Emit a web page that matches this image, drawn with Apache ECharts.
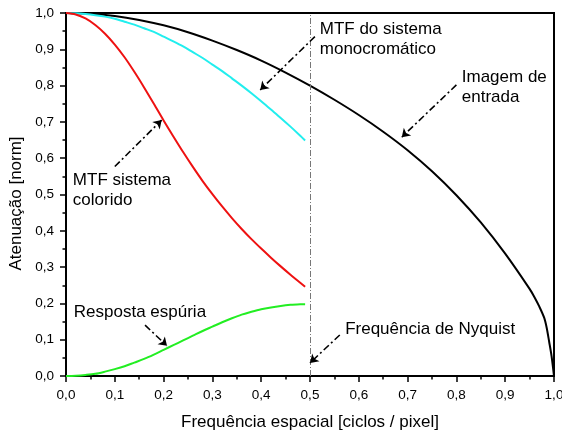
<!DOCTYPE html>
<html>
<head>
<meta charset="utf-8">
<script src="https://cdn.jsdelivr.net/npm/echarts@6/dist/echarts.min.js"></script>
<style>
html, body { margin: 0; padding: 0; background: #fff; }
#main { width: 562px; height: 431px; }
</style>
</head>
<body>
<div id="main"></div>
<script>
// curva de entrada (0..1)
var freqEntrada = [0, 0.05, 0.10, 0.15, 0.20, 0.25, 0.30, 0.35, 0.40, 0.45, 0.50, 0.55, 0.60, 0.65, 0.70, 0.75, 0.80, 0.85, 0.90, 0.95, 0.96, 0.97, 0.98, 0.985, 0.99, 0.995, 1.0];
var valEntrada  = [1.000, 0.998, 0.992, 0.981, 0.966, 0.947, 0.924, 0.898, 0.869, 0.836, 0.800, 0.761, 0.719, 0.673, 0.622, 0.564, 0.498, 0.423, 0.337, 0.240, 0.217, 0.191, 0.160, 0.133, 0.095, 0.055, 0.000];

// curvas ate Nyquist
var freqSist = [0, 0.02, 0.04, 0.06, 0.08, 0.10, 0.12, 0.14, 0.16, 0.18, 0.20, 0.22, 0.24, 0.26, 0.28, 0.30, 0.32, 0.34, 0.36, 0.38, 0.40, 0.42, 0.44, 0.46, 0.48, 0.49];
var valMono     = [1.000, 0.999, 0.997, 0.994, 0.990, 0.984, 0.976, 0.968, 0.958, 0.948, 0.935, 0.922, 0.908, 0.892, 0.876, 0.858, 0.840, 0.820, 0.800, 0.779, 0.757, 0.734, 0.711, 0.687, 0.662, 0.649];
var valColorido = [1.000, 0.996, 0.985, 0.967, 0.943, 0.913, 0.878, 0.838, 0.795, 0.750, 0.704, 0.660, 0.617, 0.576, 0.537, 0.501, 0.467, 0.435, 0.405, 0.377, 0.351, 0.326, 0.302, 0.279, 0.257, 0.246];
var valEspuria  = [0.000, 0.001, 0.003, 0.006, 0.012, 0.019, 0.027, 0.037, 0.047, 0.059, 0.072, 0.085, 0.098, 0.111, 0.124, 0.136, 0.148, 0.159, 0.169, 0.177, 0.184, 0.189, 0.193, 0.196, 0.198, 0.198];

var nyquist = 0.5;

// anotacoes
var notaTextos = ['MTF do sistema\nmonocromático', 'Imagem de\nentrada', 'MTF sistema\ncolorido', 'Resposta espúria', 'Frequência de Nyquist'];
var notaPos    = [[0.520, 0.983], [0.811, 0.851], [0.014, 0.567], [0.016, 0.204], [0.572, 0.157]];
var setaDe     = [[0.510, 0.935], [0.800, 0.802], [0.100, 0.577], [0.162, 0.140], [0.561, 0.113]];
var setaPara   = [[0.398, 0.788], [0.688, 0.658], [0.196, 0.705], [0.207, 0.083], [0.500, 0.036]];

function pares(xs, ys) {
	var out = [];
	for (var i = 0; i < xs.length; i++) out.push([xs[i], ys[i]]);
	return out;
}
function virgula(v) { return v.toFixed(1).replace('.', ','); }

var fonte = 'Liberation Sans, Arial, sans-serif';
var chartDom = document.getElementById('main');
var myChart = echarts.init(chartDom);

var eixo = {
	type: 'value',
	min: 0, max: 1, interval: 0.1,
	axisLine: { lineStyle: { color: '#000', width: 2 } },
	axisTick: { show: true, length: 6, lineStyle: { color: '#000', width: 1.5 } },
	minorTick: { show: true, splitNumber: 2, length: 3.5, lineStyle: { color: '#000', width: 1.5 } },
	splitLine: { show: false },
	axisLabel: { color: '#000', fontSize: 13.5, fontFamily: fonte, margin: 12, formatter: virgula },
	nameLocation: 'middle',
	nameTextStyle: { color: '#000', fontSize: 17, fontFamily: fonte }
};

var setas = [];
for (var i = 0; i < setaDe.length; i++) {
	setas.push([{ coord: setaDe[i] }, { coord: setaPara[i] }]);
}

var linha = { type: 'line', showSymbol: false, smooth: 0.3 };

var option = {
	animation: false,
	grid: {
		left: 66, right: 8, top: 13, bottom: 55, outerBoundsMode: 'none', containLabel: false,
		show: true, borderColor: '#000', borderWidth: 2
	},
	xAxis: Object.assign({}, eixo, { name: 'Frequência espacial [ciclos / pixel]', nameGap: 38 }),
	yAxis: Object.assign({}, eixo, {
		name: 'Atenuação [norm]', nameGap: 41,
		nameTextStyle: { color: '#000', fontSize: 17, fontFamily: fonte, padding: [0, 18, 0, 0] }
	}),
	series: [
		Object.assign({}, linha, {
			name: 'Imagem de entrada',
			lineStyle: { color: '#000', width: 2 },
			data: pares(freqEntrada, valEntrada),
			markLine: {
				silent: true, symbol: ['none', 'none'], label: { show: false },
				lineStyle: { color: '#777', width: 1, type: [6, 2, 1, 2] },
				data: [{ xAxis: nyquist }]
			}
		}),
		Object.assign({}, linha, {
			name: 'MTF monocromático',
			lineStyle: { color: '#22eeee', width: 2 },
			data: pares(freqSist, valMono)
		}),
		Object.assign({}, linha, {
			name: 'MTF colorido',
			lineStyle: { color: '#ee1111', width: 2 },
			data: pares(freqSist, valColorido)
		}),
		Object.assign({}, linha, {
			name: 'Resposta espúria',
			lineStyle: { color: '#22ee22', width: 2 },
			data: pares(freqSist, valEspuria),
			markLine: {
				silent: true, symbol: ['none', 'arrow'], symbolSize: 8, label: { show: false },
				lineStyle: { color: '#000', width: 1.6, type: [7, 3, 2, 3] },
				data: setas
			}
		})
	]
};
myChart.setOption(option);

var textos = [];
for (var j = 0; j < notaTextos.length; j++) {
	var p = myChart.convertToPixel({ gridIndex: 0 }, notaPos[j]);
	textos.push({
		type: 'text', x: p[0], y: p[1], silent: true,
		style: { text: notaTextos[j], fill: '#000', font: '17px ' + fonte, lineHeight: 20, verticalAlign: 'top', align: 'left' }
	});
}
myChart.setOption({ graphic: textos });
</script>
</body>
</html>
